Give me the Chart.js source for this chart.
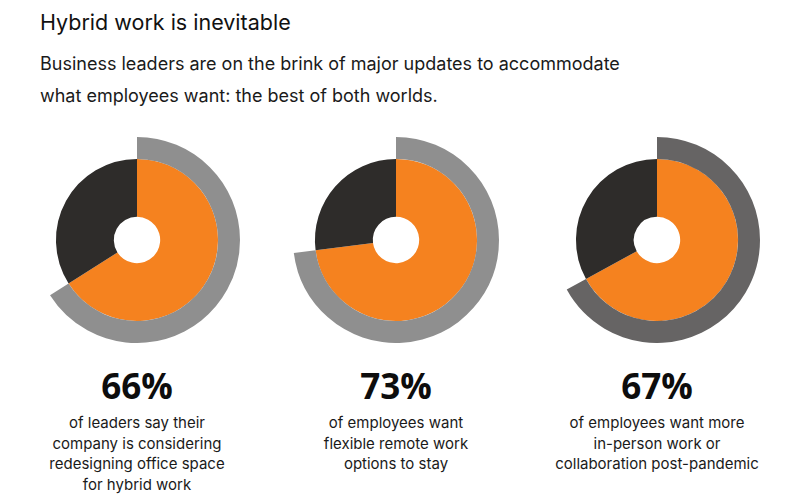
<!DOCTYPE html>
<html>
<head>
<meta charset="utf-8">
<script src="https://cdn.jsdelivr.net/npm/chart.js@4.4.1/dist/chart.umd.min.js"></script>
<style>
  body { margin: 0; background: #fff; width: 800px; height: 497px; position: relative; overflow: hidden; font-family: Inter, "Noto Sans", sans-serif; color: #111; }
  .title { position: absolute; left: 40px; top: 10px; font-size: 21.5px; line-height: 24px; font-weight: 400; }
  .sub { position: absolute; left: 40px; top: 48px; font-size: 18px; line-height: 32px; color: #1a1a1a; }
  canvas { position: absolute; }
  .pct { position: absolute; width: 240px; text-align: center; font-family: "Open Sans", sans-serif; font-weight: 700; font-size: 35px; line-height: 40px; top: 366px; color: #0d0d0d; }
  .desc { position: absolute; width: 240px; text-align: center; font-size: 15px; line-height: 20.5px; top: 413px; color: #1a1a1a; }
</style>
</head>
<body>
<div class="title">Hybrid work is inevitable</div>
<div class="sub">Business leaders are on the brink of major updates to accommodate<br>what employees want: the best of both worlds.</div>
<div id="charts"></div>
<script>
// Data
const percentages = [66, 73, 67];
const descriptions = [
  ["of leaders say their", "company is considering", "redesigning office space", "for hybrid work"],
  ["of employees want", "flexible remote work", "options to stay"],
  ["of employees want more", "in-person work or", "collaboration post-pandemic"]
];
const ringColors = ["#8f8f8f", "#8f8f8f", "#666464"];
const centersX = [137, 396, 657];

const centerY = 240;
const outerR = 103;

const container = document.getElementById("charts");

percentages.forEach((pct, i) => {
  const cv = document.createElement("canvas");
  cv.width = outerR * 2;
  cv.height = outerR * 2;
  cv.style.left = (centersX[i] - outerR) + "px";
  cv.style.top = (centerY - outerR) + "px";
  container.appendChild(cv);

  new Chart(cv.getContext("2d"), {
    type: "doughnut",
    data: {
      labels: ["Yes", "Other"],
      datasets: [
        {
          data: [pct, 100 - pct],
          backgroundColor: [ringColors[i], "rgba(0,0,0,0)"],
          borderWidth: 0,
          weight: 22
        },
        {
          data: [pct, 100 - pct],
          backgroundColor: ["#f5821f", "#2e2c2a"],
          borderWidth: 0,
          weight: 58
        }
      ]
    },
    options: {
      responsive: false,
      maintainAspectRatio: false,
      animation: false,
      events: [],
      cutout: "22.5%",
      layout: { padding: 0 },
      plugins: { legend: { display: false }, tooltip: { enabled: false } }
    }
  });

  const p = document.createElement("div");
  p.className = "pct";
  p.style.left = (centersX[i] - 120) + "px";
  p.textContent = pct + "%";
  container.appendChild(p);

  const d = document.createElement("div");
  d.className = "desc";
  d.style.left = (centersX[i] - 120) + "px";
  d.innerHTML = descriptions[i].join("<br>");
  container.appendChild(d);
});
</script>
</body>
</html>
